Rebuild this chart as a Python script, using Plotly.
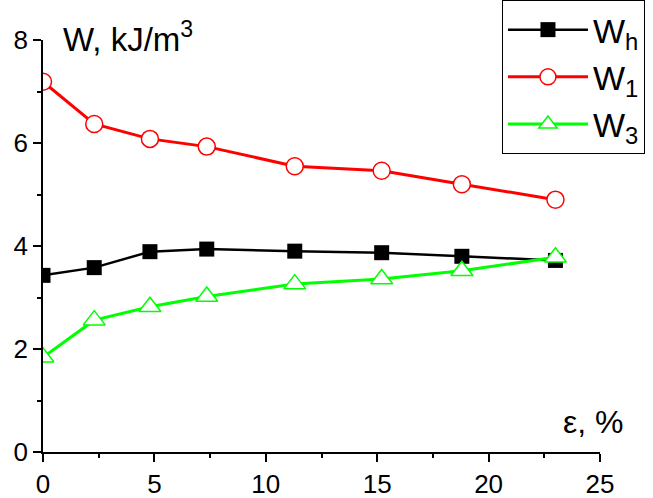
import plotly.graph_objects as go

eps = [0, 2.3, 4.8, 7.35, 11.3, 15.2, 18.8, 23]
W_h = [3.43, 3.58, 3.89, 3.94, 3.90, 3.87, 3.80, 3.72]
W_1 = [7.19, 6.37, 6.08, 5.93, 5.55, 5.46, 5.20, 4.90]
W_3 = [1.84, 2.56, 2.82, 3.02, 3.26, 3.36, 3.52, 3.78]

FONT = "Liberation Sans, Arial, sans-serif"

fig = go.Figure()
fig.add_trace(go.Scatter(x=eps, y=W_h, mode="lines+markers", name="W<sub>h</sub>",
                         line=dict(color="black", width=2.5),
                         marker=dict(symbol="square", size=15, color="black")))
fig.add_trace(go.Scatter(x=eps, y=W_1, mode="lines+markers", name="W<sub>1</sub>",
                         line=dict(color="#ff0000", width=3),
                         marker=dict(symbol="circle", size=17, color="white",
                                     line=dict(color="#ff0000", width=1.5))))
fig.add_trace(go.Scatter(x=eps, y=W_3, mode="lines+markers", name="W<sub>3</sub>",
                         line=dict(color="#00ff00", width=3),
                         marker=dict(symbol="triangle-up", size=19, color="white",
                                     line=dict(color="#00ff00", width=1.5))))

axis_common = dict(showgrid=False, zeroline=False, showline=True, linecolor="black",
                   linewidth=1.5, ticks="outside", ticklen=8, tickwidth=1.5,
                   tickcolor="black", tickfont=dict(size=26), automargin=False)

fig.update_layout(
    width=653, height=498,
    margin=dict(l=43, r=53, t=40, b=46, autoexpand=False),
    plot_bgcolor="white", paper_bgcolor="white",
    font=dict(family=FONT, size=26, color="black"),
    xaxis=dict(range=[0, 25], tickvals=[0, 5, 10, 15, 20, 25],
               minor=dict(tickvals=[2.5, 7.5, 12.5, 17.5, 22.5], ticks="outside", ticklen=4,
                          tickwidth=1.5, tickcolor="black"), **axis_common),
    yaxis=dict(range=[0, 8], tickvals=[0, 2, 4, 6, 8],
               minor=dict(tickvals=[1, 3, 5, 7], ticks="outside", ticklen=4,
                          tickwidth=1.5, tickcolor="black"), **axis_common),
    legend=dict(x=0.824, y=1.097, xanchor="left", yanchor="top", bgcolor="white",
                bordercolor="black", borderwidth=1, font=dict(size=34), itemwidth=80,
                tracegroupgap=0),
    annotations=[
        dict(text="W, kJ/m<sup>3</sup>", x=0.033, y=1.007, xref="paper", yref="paper",
             xanchor="left", yanchor="middle", showarrow=False, font=dict(size=33)),
        dict(text="ε, %", x=1.047, y=0.073, xref="paper", yref="paper",
             xanchor="right", yanchor="middle", showarrow=False, font=dict(size=32)),
    ],
)

fig.write_html("out.html")
